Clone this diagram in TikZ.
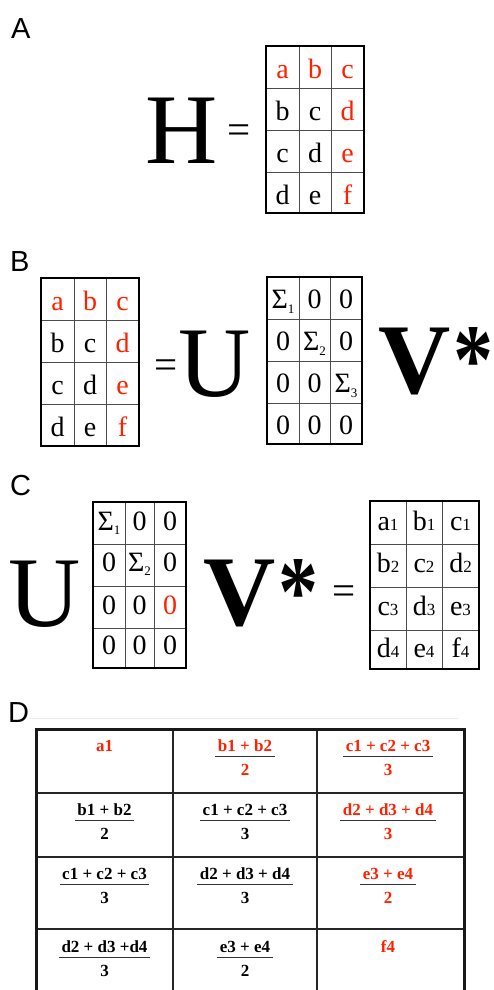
\documentclass[tikz,border=0pt]{standalone}
\usepackage{fontspec}
\setmainfont{Liberation Serif}
\newfontfamily\lsans{Liberation Sans}
\definecolor{myred}{RGB}{255,32,0}
\newcommand\R{\color{myred}}
\newcommand\sg[1]{Σ\raisebox{-4.5pt}{\fontsize{13}{13}\selectfont #1}}
\newcommand\sbs[1]{{\fontsize{17}{17}\selectfont #1}}
\newcommand\vstar{V\kern2.5pt\scalebox{0.8}[1]{*}}
\tikzset{
 lbl/.style={font=\lsans\fontsize{29}{29}\selectfont, anchor=base west, inner sep=0pt},
 celltxt/.style={font=\fontsize{28}{28}\selectfont, anchor=base, inner sep=0pt},
 big/.style={font=\fontsize{100}{100}\selectfont, anchor=base, inner sep=0pt},
 bigb/.style={font=\bfseries\fontsize{100}{100}\selectfont, anchor=base west, inner sep=0pt},
 eqs/.style={font=\fontsize{41}{41}\selectfont, anchor=base, inner sep=0pt},
 outerline/.style={line width=2pt},
 innerline/.style={line width=1pt, black!70},
 dtxt/.style={font=\bfseries\fontsize{17}{17}\selectfont, anchor=base, inner xsep=2.5pt, inner ysep=0pt},
 fbar/.style={line width=1.4pt, black!80},
 dout/.style={line width=3pt, black!90},
 din/.style={line width=2pt, black!85},
}
% grid: x0 x1 x2 x3 y0 y1 y2 y3 y4
\newcommand\mgrid[9]{%
 \draw[innerline] (#2,#5) -- (#2,#9) (#3,#5) -- (#3,#9) (#1,#6) -- (#4,#6) (#1,#7) -- (#4,#7) (#1,#8) -- (#4,#8);
 \draw[outerline] (#1,#5) rectangle (#4,#9);}
% row of cells: name, baseline, three texts (uses \cxa \cxb \cxc)
\newcommand\crow[5]{%
 \node[celltxt] (#1a) at (\cxa,#2) {#3};
 \node[celltxt] (#1b) at (\cxb,#2) {#4};
 \node[celltxt] (#1c) at (\cxc,#2) {#5};}
% fraction cell: name, x, baseline, colour, numerator, denominator
\newcommand\dfr[6]{%
 \node[dtxt, text=#4] (#1n) at (#2,#3) {#5};
 \node[dtxt, text=#4] (#1d) at (#2,#3+24) {#6};
 \draw[fbar] ([yshift=-5.5pt]#1n.base west) -- ([yshift=-5.5pt]#1n.base east);}
\begin{document}
\begin{tikzpicture}[x=1pt,y=-1pt]
\useasboundingbox (0,0) rectangle (493,990);
\clip (0,0) rectangle (493,990);
\fill[white] (0,0) rectangle (493,990);
% ---------------- A
\node[lbl] (la) at (11,38) {A};
\node[big] (H) at (182,163) {H};
\node[eqs] (eqA) at (239,143) {=};
\mgrid{266}{299}{331}{364}{46}{88}{130}{172}{213}
\def\cxa{282.5}\def\cxb{315}\def\cxc{347.5}
\crow{A1}{78}{\R a}{\R b}{\R c}
\crow{A2}{120}{b}{c}{\R d}
\crow{A3}{162}{c}{d}{\R e}
\crow{A4}{204}{d}{e}{\R f}
% ---------------- B
\node[lbl] (lb) at (10,271) {B};
\mgrid{41}{74}{106}{139}{278}{320}{362}{404}{446}
\def\cxa{57.5}\def\cxb{90}\def\cxc{122.5}
\crow{B1}{310}{\R a}{\R b}{\R c}
\crow{B2}{352}{b}{c}{\R d}
\crow{B3}{394}{c}{d}{\R e}
\crow{B4}{436}{d}{e}{\R f}
\node[eqs] (eqB) at (166,378) {=};
\node[big] (UB) at (215,396) {U};
\mgrid{267}{299}{330}{362}{277}{319}{361}{403}{444}
\def\cxa{283}\def\cxb{314.5}\def\cxc{346}
\crow{S1}{308.5}{\sg{1}}{0}{0}
\crow{S2}{350.5}{0}{\sg{2}}{0}
\crow{S3}{392.5}{0}{0}{\sg{3}}
\crow{S4}{434.5}{0}{0}{0}
\node[bigb] (VB) at (378.4,393) {\vstar};
% ---------------- C
\node[lbl] (lc) at (10,495) {C};
\node[big] (UC) at (45,626) {U};
\mgrid{93}{125}{154}{186}{502}{544}{586}{628}{668}
\def\cxa{109}\def\cxb{139.5}\def\cxc{170}
\crow{T1}{530}{\sg{1}}{0}{0}
\crow{T2}{571}{0}{\sg{2}}{0}
\crow{T3}{614}{0}{0}{\R 0}
\crow{T4}{654}{0}{0}{0}
\node[bigb] (VC) at (203.4,625) {\vstar};
\node[eqs] (eqC) at (344,604) {=};
\mgrid{370}{406}{442}{479}{501}{544}{587}{630}{669}
\def\cxa{388}\def\cxb{424}\def\cxc{460.5}
\crow{C1}{530}{a\sbs{1}}{b\sbs{1}}{c\sbs{1}}
\crow{C2}{572}{b\sbs{2}}{c\sbs{2}}{d\sbs{2}}
\crow{C3}{615}{c\sbs{3}}{d\sbs{3}}{e\sbs{3}}
\crow{C4}{657}{d\sbs{4}}{e\sbs{4}}{f\sbs{4}}
% ---------------- D
\node[lbl] (ld) at (8,722) {D};
\draw[black!8, line width=0.6pt] (30,718) -- (458,718);
\draw[din] (173,729) -- (173,1000) (317,729) -- (317,1000)
  (36,793) -- (464,793) (36,857) -- (464,857) (36,929) -- (464,929);
\draw[dout] (36,1000) -- (36,729) -- (464,729) -- (464,1000);
\node[dtxt, text=myred] (d11) at (104.5,751) {a1};
\dfr{d12}{245}{751}{myred}{b1 + b2}{2}
\dfr{d13}{388}{751}{myred}{c1 + c2 + c3}{3}
\dfr{d21}{104.5}{815}{black}{b1 + b2}{2}
\dfr{d22}{245}{815}{black}{c1 + c2 + c3}{3}
\dfr{d23}{388}{815}{myred}{d2 + d3 + d4}{3}
\dfr{d31}{104.5}{879}{black}{c1 + c2 + c3}{3}
\dfr{d32}{245}{879}{black}{d2 + d3 + d4}{3}
\dfr{d33}{388}{879}{myred}{e3 + e4}{2}
\dfr{d41}{104.5}{952}{black}{d2 + d3 +d4}{3}
\dfr{d42}{245}{952}{black}{e3 + e4}{2}
\node[dtxt, text=myred] (d43) at (388,952) {f4};
\end{tikzpicture}
\end{document}
